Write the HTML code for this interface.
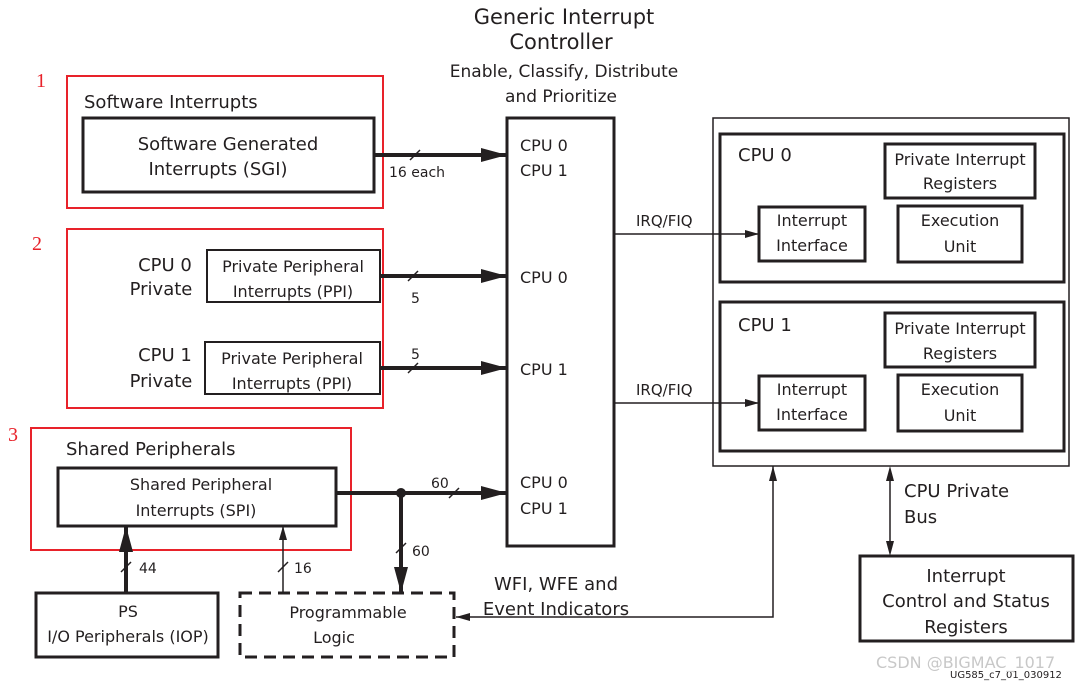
<!DOCTYPE html>
<html><head><meta charset="utf-8"><style>
body{margin:0;background:#fff}
svg text{font-family:"DejaVu Sans","Liberation Sans",sans-serif;fill:#231f20}
</style></head><body>
<svg width="1090" height="682" viewBox="0 0 1090 682" xmlns="http://www.w3.org/2000/svg">
<defs>
<marker id="big" markerWidth="10" markerHeight="8" refX="10" refY="4" orient="auto" markerUnits="userSpaceOnUse" viewBox="0 0 10 8"><path d="M0,0 L10,4 L0,8 z" fill="#231f20"/></marker>
<marker id="bigA" markerWidth="26" markerHeight="14" refX="26" refY="7" orient="auto" markerUnits="userSpaceOnUse"><path d="M0,0 L26,7 L0,14 z" fill="#231f20"/></marker>
<marker id="sm" markerWidth="14" markerHeight="8" refX="14" refY="4" orient="auto" markerUnits="userSpaceOnUse"><path d="M0,0 L14,4 L0,8 z" fill="#231f20"/></marker>
</defs>
<g fill="none" stroke="#231f20">
<!-- red boxes -->
<rect x="67" y="76" width="316" height="132" stroke="#e8222a" stroke-width="2"/>
<rect x="67" y="229" width="316" height="179" stroke="#e8222a" stroke-width="2"/>
<rect x="31" y="428" width="320" height="122" stroke="#e8222a" stroke-width="2"/>
<g stroke-width="3">
<rect x="83" y="118" width="291" height="74"/>
<rect x="207" y="250" width="173" height="52" stroke-width="2"/>
<rect x="205" y="342" width="175" height="52" stroke-width="2"/>
<rect x="58" y="468" width="278" height="58"/>
<rect x="36" y="593" width="182" height="64"/>
<rect x="240" y="593" width="214" height="64" stroke-dasharray="12,7"/>
<rect x="507" y="118" width="107" height="428"/>
<rect x="720" y="134" width="344" height="148"/>
<rect x="720" y="302" width="344" height="149"/>
<rect x="885" y="144" width="150" height="54"/>
<rect x="885" y="313" width="150" height="54"/>
<rect x="759" y="207" width="106" height="54"/>
<rect x="759" y="376" width="106" height="54"/>
<rect x="898" y="206" width="124" height="56"/>
<rect x="898" y="375" width="124" height="56"/>
<rect x="860" y="556" width="213" height="85"/>
</g>
<rect x="713" y="118" width="356" height="348" stroke-width="1.5"/>
<!-- thick arrows -->
<g stroke-width="4">
<line x1="374" y1="155" x2="507" y2="155" marker-end="url(#bigA)"/>
<line x1="380" y1="276" x2="507" y2="276" marker-end="url(#bigA)"/>
<line x1="380" y1="368" x2="507" y2="368" marker-end="url(#bigA)"/>
<line x1="336" y1="493" x2="507" y2="493" marker-end="url(#bigA)"/>
<line x1="401" y1="493" x2="401" y2="593" marker-end="url(#bigA)"/>
<line x1="126" y1="593" x2="126" y2="526" marker-end="url(#bigA)"/>
</g>
<circle cx="401" cy="493" r="5" fill="#231f20" stroke="none"/>
<g stroke-width="1.5">
<line x1="283" y1="593" x2="283" y2="526" marker-end="url(#sm)"/>
<line x1="614" y1="234" x2="759" y2="234" marker-end="url(#sm)"/>
<line x1="614" y1="403" x2="759" y2="403" marker-end="url(#sm)"/>
<polyline points="773,480 773,617 456,617" marker-end="url(#sm)"/>
<line x1="773" y1="480" x2="773" y2="466" />
<polygon points="773,466 769,481 777,481" fill="#231f20" stroke="none"/>
<line x1="890" y1="480" x2="890" y2="542"/>
<polygon points="890,466 886,481 894,481" fill="#231f20" stroke="none"/>
<polygon points="890,556 886,541 894,541" fill="#231f20" stroke="none"/>
<!-- slashes -->
<line x1="410" y1="160" x2="420" y2="150"/>
<line x1="408" y1="281" x2="418" y2="271"/>
<line x1="408" y1="373" x2="418" y2="363"/>
<line x1="449" y1="498" x2="459" y2="488"/>
<line x1="396" y1="553" x2="406" y2="543"/>
<line x1="121" y1="572" x2="131" y2="562"/>
<line x1="278" y1="572" x2="288" y2="562"/>
</g>
</g>
<g font-size="17" text-anchor="middle">
<text x="564" y="24" font-size="21">Generic Interrupt</text>
<text x="561" y="49" font-size="21">Controller</text>
<text x="564" y="77">Enable, Classify, Distribute</text>
<text x="561" y="102">and Prioritize</text>
<text x="228" y="150" font-size="18">Software Generated</text>
<text x="218" y="175" font-size="18">Interrupts (SGI)</text>
<text x="293" y="272" font-size="16">Private Peripheral</text>
<text x="293" y="297" font-size="16">Interrupts (PPI)</text>
<text x="292" y="364" font-size="16">Private Peripheral</text>
<text x="292" y="389" font-size="16">Interrupts (PPI)</text>
<text x="165" y="271" font-size="18">CPU 0</text>
<text x="161" y="295" font-size="18">Private</text>
<text x="165" y="361" font-size="18">CPU 1</text>
<text x="161" y="387" font-size="18">Private</text>
<text x="201" y="490" font-size="16">Shared Peripheral</text>
<text x="196" y="516" font-size="16">Interrupts (SPI)</text>
<text x="128" y="617" font-size="16">PS</text>
<text x="128" y="642" font-size="16">I/O Peripherals (IOP)</text>
<text x="348" y="618" font-size="16">Programmable</text>
<text x="334" y="643" font-size="16">Logic</text>
<text x="812" y="226" font-size="16">Interrupt</text>
<text x="812" y="251" font-size="16">Interface</text>
<text x="812" y="395" font-size="16">Interrupt</text>
<text x="812" y="420" font-size="16">Interface</text>
<text x="960" y="165" font-size="16">Private Interrupt</text>
<text x="960" y="189" font-size="16">Registers</text>
<text x="960" y="334" font-size="16">Private Interrupt</text>
<text x="960" y="359" font-size="16">Registers</text>
<text x="960" y="226" font-size="16">Execution</text>
<text x="960" y="252" font-size="16">Unit</text>
<text x="960" y="395" font-size="16">Execution</text>
<text x="960" y="421" font-size="16">Unit</text>
<text x="966" y="582" font-size="18">Interrupt</text>
<text x="966" y="607" font-size="18">Control and Status</text>
<text x="966" y="633" font-size="18">Registers</text>
<text x="556" y="590" font-size="18">WFI, WFE and</text>
<text x="556" y="615" font-size="18">Event Indicators</text>
</g>
<g font-size="17">
<text x="84" y="108" font-size="18">Software Interrupts</text>
<text x="66" y="455" font-size="18">Shared Peripherals</text>
<text x="520" y="151" font-size="16">CPU 0</text>
<text x="520" y="176" font-size="16">CPU 1</text>
<text x="520" y="283" font-size="16">CPU 0</text>
<text x="520" y="375" font-size="16">CPU 1</text>
<text x="520" y="488" font-size="16">CPU 0</text>
<text x="520" y="514" font-size="16">CPU 1</text>
<text x="738" y="161" font-size="18">CPU 0</text>
<text x="738" y="331" font-size="18">CPU 1</text>
<text x="636" y="226" font-size="15">IRQ/FIQ</text>
<text x="636" y="395" font-size="15">IRQ/FIQ</text>
<text x="389" y="177" font-size="14">16 each</text>
<text x="411" y="303" font-size="14">5</text>
<text x="411" y="359" font-size="14">5</text>
<text x="431" y="488" font-size="14">60</text>
<text x="412" y="556" font-size="14">60</text>
<text x="139" y="573" font-size="14">44</text>
<text x="294" y="573" font-size="14">16</text>
<text x="904" y="497" font-size="18">CPU Private</text>
<text x="904" y="523" font-size="18">Bus</text>
<text x="950" y="678" font-size="10">UG585_c7_01_030912</text>
<text x="876" y="668" font-size="16" style="fill:#c8c8c8">CSDN @BIGMAC_1017</text>
</g>
<g font-family="Liberation Serif" font-size="20" style="fill:#e8222a">
<text x="36" y="87" style="fill:#e8222a;font-family:'Liberation Serif',serif">1</text>
<text x="32" y="250" style="fill:#e8222a;font-family:'Liberation Serif',serif">2</text>
<text x="8" y="441" style="fill:#e8222a;font-family:'Liberation Serif',serif">3</text>
</g>
</svg>
</body></html>
